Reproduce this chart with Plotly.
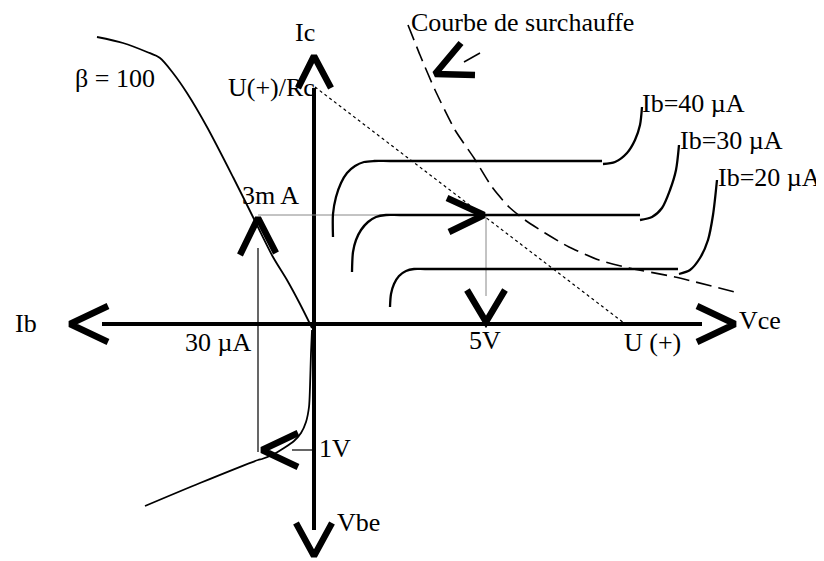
import plotly.graph_objects as go

# Diagram drawn in picture coordinates (x: 0..824, y: 0..561 downwards)
W, H = 824, 561
OFF = 8  # page body margin

# Axes (Ib <- origin -> Vce ; Ic up, Vbe down)
axis_h_x = [102, 702]
axis_h_y = [324, 324]
axis_v_x = [314, 314]
axis_v_y = [88, 530]

# Arrow heads (chevrons): x and y lists
arrow_ib_x, arrow_ib_y = [108, 70, 108], [306, 324, 342]
arrow_vce_x, arrow_vce_y = [697, 735, 697], [306, 324, 342]
arrow_ic_x, arrow_ic_y = [298, 314, 331], [88, 56, 88]
arrow_vbe_x, arrow_vbe_y = [296, 314, 332], [523, 556, 523]
arrow_3ma_x, arrow_3ma_y = [240, 258, 276], [255, 218, 253]
arrow_op_x, arrow_op_y = [447, 484, 449], [198, 215, 232]
arrow_5v_x, arrow_5v_y = [467, 486, 505], [290, 322, 290]
arrow_1v_x, arrow_1v_y = [298, 262, 298], [433, 450, 467]
arrow_surch_x, arrow_surch_y = [461, 435, 475], [43, 74, 75]

# Transfer characteristic (beta = 100)
beta_x = [97, 123, 147, 160, 173, 187, 207, 233, 253, 273, 287, 300, 312]
beta_y = [37, 43, 52, 58, 73, 93, 127, 177, 217, 257, 280, 304, 328]

# Input characteristic Ib(Vbe)
input_x = [312, 311, 310, 309, 306, 301, 294, 284, 272, 262, 258, 200, 145]
input_y = [330, 353, 387, 407, 422, 433, 441, 448, 455, 459, 460, 483, 506]

# Output characteristics: rising + flat part, then end hook
ib40_x = [333, 333, 336, 341, 347, 355, 364, 374, 390, 602]
ib40_y = [237, 214, 197, 183, 173, 166, 162, 161, 161, 161]
ib40_hook_x = [603, 615, 627, 635, 640, 642]
ib40_hook_y = [164, 162, 153, 140, 125, 107]
ib30_x = [352, 353, 356, 361, 368, 376, 386, 400, 640]
ib30_y = [272, 252, 240, 230, 222, 217, 215, 215, 215]
ib30_hook_x = [640, 652, 662, 670, 676, 679]
ib30_hook_y = [220, 217, 208, 190, 170, 145]
ib20_x = [390, 391, 394, 399, 406, 414, 425, 678]
ib20_y = [307, 294, 284, 276, 271, 269, 269, 269]
ib20_hook_x = [679, 690, 700, 708, 713, 717]
ib20_hook_y = [274, 270, 258, 240, 215, 180]

# Overheating curve (dashed)
surch_x = [408, 420, 435, 455, 474, 492, 509, 525, 545, 569, 599, 629, 675, 739]
surch_y = [25, 55, 90, 130, 158, 187, 207, 220, 233, 247, 260, 268, 277, 293]

# Load line (dotted): from U(+)/Rc to U(+)
load_x = [315, 624]
load_y = [87, 323]

# Thin construction lines
proj_ic_x, proj_ic_y = [258, 485], [215, 215]
proj_5v_x, proj_5v_y = [486, 486], [215, 296]
proj_ib_x, proj_ib_y = [258, 258], [248, 452]
tick_1v_x, tick_1v_y = [292, 314], [450, 450]
leader_x, leader_y = [464, 480], [62, 53]

# Labels: text, x, y, anchor
labels = [
    ("Ic", 305, 32, "center"),
    ("β = 100", 73, 78, "left"),
    ("U(+)/Rc", 226, 87, "left"),
    ("3m A", 240, 195, "left"),
    ("Courbe de surchauffe", 409, 22, "left"),
    ("Ib=40 µA", 640, 103, "left"),
    ("Ib=30 µA", 678, 140, "left"),
    ("Ib=20 µA", 716, 177, "left"),
    ("Ib", 13, 323, "left"),
    ("30 µA", 183, 342, "left"),
    ("1V", 317, 448, "left"),
    ("Vbe", 335, 522, "left"),
    ("5V", 467, 340, "left"),
    ("U (+)", 622, 342, "left"),
    ("Vce", 737, 320, "left"),
]

fig = go.Figure()

def add_line(x, y, width, color="black", dash="solid", shape="linear", smoothing=1.0):
    line = dict(color=color, width=width, dash=dash, shape=shape)
    if shape == "spline":
        line["smoothing"] = smoothing
    fig.add_trace(go.Scatter(x=x, y=y, mode="lines", line=line,
                             hoverinfo="skip", showlegend=False))

# axes
add_line(axis_h_x, axis_h_y, 4)
add_line(axis_v_x, axis_v_y, 4)

# thin lines
add_line(proj_ic_x, proj_ic_y, 1, color="#888888")
add_line(proj_5v_x, proj_5v_y, 1, color="#888888")
add_line(proj_ib_x, proj_ib_y, 1.2)
add_line(tick_1v_x, tick_1v_y, 1.2)
add_line(leader_x, leader_y, 1.5)
add_line(load_x, load_y, 1.2, dash="dot")

# curves
add_line(beta_x, beta_y, 1.8, shape="spline", smoothing=0.8)
add_line(input_x, input_y, 1.8, shape="spline", smoothing=0.8)
for cx, cy in [(ib40_x, ib40_y), (ib40_hook_x, ib40_hook_y),
               (ib30_x, ib30_y), (ib30_hook_x, ib30_hook_y),
               (ib20_x, ib20_y), (ib20_hook_x, ib20_hook_y)]:
    add_line(cx, cy, 2.3, shape="spline", smoothing=0.8)
add_line(surch_x, surch_y, 1.6, dash="16px,7px", shape="spline", smoothing=0.6)

# arrow heads
for ax, ay in [(arrow_ib_x, arrow_ib_y), (arrow_vce_x, arrow_vce_y),
               (arrow_ic_x, arrow_ic_y), (arrow_vbe_x, arrow_vbe_y),
               (arrow_3ma_x, arrow_3ma_y), (arrow_op_x, arrow_op_y),
               (arrow_5v_x, arrow_5v_y), (arrow_1v_x, arrow_1v_y),
               (arrow_surch_x, arrow_surch_y)]:
    add_line(ax, ay, 6.5)

for text, x, y, anchor in labels:
    fig.add_annotation(x=x, y=y, text=text, showarrow=False,
                       xanchor=anchor, yanchor="middle",
                       font=dict(family="Liberation Serif", size=26, color="black"))

fig.update_layout(
    width=W, height=H,
    margin=dict(l=0, r=0, t=0, b=0),
    paper_bgcolor="white", plot_bgcolor="white",
    xaxis=dict(range=[OFF, W + OFF], visible=False, fixedrange=True),
    yaxis=dict(range=[H + OFF, OFF], visible=False, fixedrange=True),
    showlegend=False,
)

fig.write_html("out.html")
